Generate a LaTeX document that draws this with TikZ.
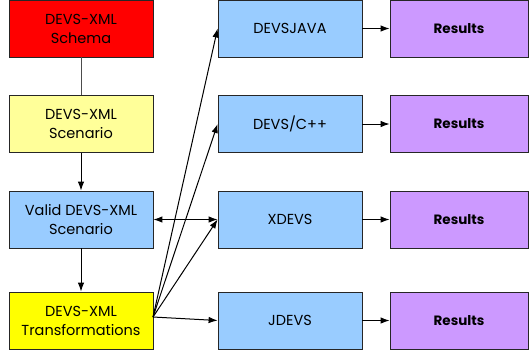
\documentclass[tikz,border=0pt]{standalone}
\usepackage{fontspec}
\setmainfont{Poppins}
\usepackage{tikz}
\usetikzlibrary{arrows.meta}
\definecolor{schemared}{HTML}{FF0000}
\definecolor{paleyellow}{HTML}{FFFF99}
\definecolor{skyblue}{HTML}{99CCFF}
\definecolor{brightyellow}{HTML}{FFFF00}
\definecolor{lilac}{HTML}{CC99FF}
\begin{document}
\begin{tikzpicture}
      [
        x=1pt,y=-1pt,
        box/.style={draw=black!85,line width=0.8pt,minimum width=144pt,minimum height=57pt,
          inner sep=0pt,align=center,font=\fontsize{14.5}{19}\selectfont},
        res/.style={box,minimum width=138pt,font=\bfseries\fontsize{13.5}{19}\selectfont},
        arr/.style={-{Latex[length=9pt,width=6.5pt]},line width=1pt}
      ]

      \useasboundingbox (0,0) rectangle (529,354);

      % left column
      \node[box,fill=schemared] (Schema) at (81,28.5) {DEVS-XML\\Schema};
      \node[box,fill=paleyellow] (Scen) at (81,124) {DEVS-XML\\Scenario};
      \node[box,fill=skyblue] (Valid) at (81,219.5) {Valid DEVS-XML\\Scenario};
      \node[box,fill=brightyellow] (Trans) at (81,320.5) {DEVS-XML\\Transformations};

      % simulators
      \node[box,fill=skyblue] (Java) at (290,28.5) {DEVSJAVA};
      \node[box,fill=skyblue] (Cpp) at (290,124) {DEVS/C++};
      \node[box,fill=skyblue] (X) at (290,219.5) {XDEVS};
      \node[box,fill=skyblue] (J) at (290,320.5) {JDEVS};

      % results
      \node[res,fill=lilac] (R1) at (459,28.5) {Results};
      \node[res,fill=lilac] (R2) at (459,124) {Results};
      \node[res,fill=lilac] (R3) at (459,219.5) {Results};
      \node[res,fill=lilac] (R4) at (459,320.5) {Results};

      \coordinate (Fan) at (153,317);

      \draw[black!70,line width=1pt] (Schema) -- (Scen);
      \draw[arr] (Scen) -- (Valid);
      \draw[arr] (Valid) -- (Trans);
      \draw[arr,{Latex[length=9pt,width=6.5pt]}-{Latex[length=9pt,width=6.5pt]}] (Valid.east) -- (X.west);

      \draw[arr] (Fan) -- (Java.west);
      \draw[arr] (Fan) -- (Cpp.west);
      \draw[arr] (Fan) -- (X.west);
      \draw[arr] (Fan) -- (J.west);

      \draw[arr] (Java) -- (R1);
      \draw[arr] (Cpp) -- (R2);
      \draw[arr] (X) -- (R3);
      \draw[arr] (J) -- (R4);
    \end{tikzpicture}
\end{document}
